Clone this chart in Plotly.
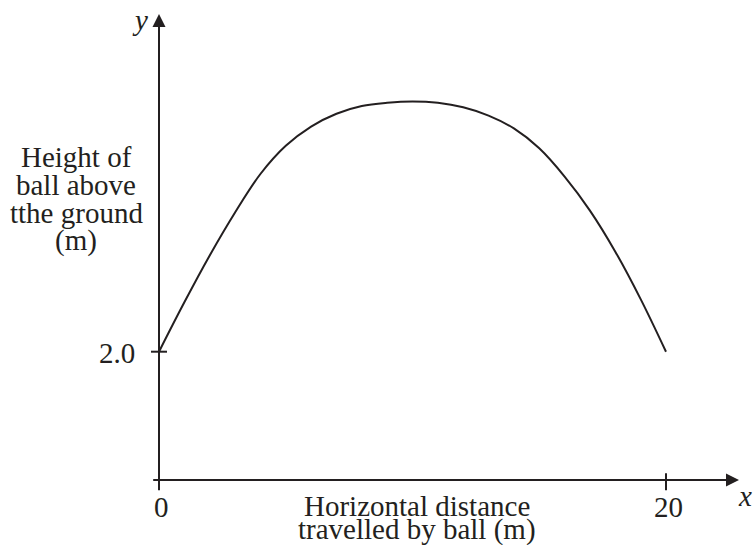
import plotly.graph_objects as go

# ---- data ----
distance_m = [0, 1, 2, 3, 4, 5, 6, 7, 8, 9, 10,
              11, 12, 13, 14, 15, 16, 17, 18, 19, 20]
height_m = [2.00, 2.77, 3.50, 4.17, 4.77, 5.21, 5.51, 5.71, 5.83, 5.88, 5.90,
            5.88, 5.81, 5.68, 5.48, 5.17, 4.73, 4.20, 3.56, 2.82, 2.00]
x_tick_vals = [0, 20]
x_tick_text = ["0", "20"]
y_tick_vals = [2.0]
y_tick_text = ["2.0"]
y_title_lines = ["Height of", "ball above", "tthe ground", "(m)"]
x_title_lines = ["Horizontal distance", "travelled by ball (m)"]

# ---- layout constants (pixel geometry of the reference) ----
W, H = 753, 545
PX0, PXU = 159.0, 25.35      # pixel of x=0, pixels per metre horizontally
PY0, PYU = 480.0, 64.15      # pixel of y=0, pixels per metre vertically
x_range = [(0 - PX0) / PXU, (W - PX0) / PXU]
y_range = [(PY0 - H) / PYU, (PY0 - 0) / PYU]

FONT = "Liberation Serif, Times New Roman, serif"
INK = "#231f20"
FS = 29

fig = go.Figure()
fig.add_trace(go.Scatter(
    x=distance_m, y=height_m, mode="lines",
    line=dict(color=INK, width=2, shape="spline", smoothing=1.0),
    hoverinfo="skip", showlegend=False))

# axis extents (data units)
x_axis_start = (151.7 - PX0) / PXU
x_axis_end = (739.0 - PX0) / PXU
y_axis_start = (PY0 - 490.0) / PYU
y_axis_end = (PY0 - 14.0) / PYU

annotations = []
# axes drawn as arrows
annotations.append(dict(x=x_axis_end, y=0, ax=x_axis_start, ay=0,
                        xref="x", yref="y", axref="x", ayref="y", text="",
                        showarrow=True, arrowhead=2, arrowsize=1.3,
                        arrowwidth=2, arrowcolor=INK, standoff=0, startstandoff=0))
annotations.append(dict(x=0, y=y_axis_end, ax=0, ay=y_axis_start,
                        xref="x", yref="y", axref="x", ayref="y", text="",
                        showarrow=True, arrowhead=2, arrowsize=1.3,
                        arrowwidth=2, arrowcolor=INK, standoff=0, startstandoff=0))

shapes = []
tick_half_x = 8.0 / PXU
tick_half_y = 8.5 / PYU
for v in y_tick_vals:
    shapes.append(dict(type="line", xref="x", yref="y", x0=-tick_half_x, x1=tick_half_x,
                       y0=v, y1=v, line=dict(color=INK, width=2)))
for v in x_tick_vals:
    shapes.append(dict(type="line", xref="x", yref="y", x0=v, x1=v,
                       y0=-1.2 * tick_half_y, y1=0.8 * tick_half_y, line=dict(color=INK, width=2)))

# tick labels
for v, t in zip(x_tick_vals, x_tick_text):
    annotations.append(dict(x=v, y=0, xref="x", yref="y", text=t, showarrow=False,
                            xanchor="center", yanchor="middle", xshift=2, yshift=-27,
                            font=dict(family=FONT, size=FS, color=INK)))
for v, t in zip(y_tick_vals, y_tick_text):
    annotations.append(dict(x=0, y=v, xref="x", yref="y", text=t, showarrow=False,
                            xanchor="right", yanchor="middle", xshift=-22, yshift=-1,
                            font=dict(family=FONT, size=FS, color=INK)))

# axis letters
annotations.append(dict(x=0, y=y_axis_end, xref="x", yref="y", text="<i>y</i>",
                        showarrow=False, xanchor="center", yanchor="middle",
                        xshift=-19, yshift=-6, font=dict(family=FONT, size=FS, color=INK)))
annotations.append(dict(x=x_axis_end, y=0, xref="x", yref="y", text="<i>x</i>",
                        showarrow=False, xanchor="center", yanchor="middle",
                        xshift=6, yshift=-16, font=dict(family=FONT, size=FS, color=INK)))

# axis titles, one annotation per line (tight line spacing as in the reference)
y_title_centres = [157, 185, 213, 240]
for line, cy in zip(y_title_lines, y_title_centres):
    annotations.append(dict(x=76 / W, y=1 - cy / H, xref="paper", yref="paper",
                            text=line, showarrow=False, xanchor="center", yanchor="middle",
                            font=dict(family=FONT, size=FS, color=INK)))
x_title_centres = [506, 529]
for line, cy in zip(x_title_lines, x_title_centres):
    annotations.append(dict(x=417 / W, y=1 - cy / H, xref="paper", yref="paper",
                            text=line, showarrow=False, xanchor="center", yanchor="middle",
                            font=dict(family=FONT, size=FS, color=INK)))

fig.update_layout(
    width=W, height=H, margin=dict(l=0, r=0, t=0, b=0, pad=0),
    paper_bgcolor="white", plot_bgcolor="white",
    xaxis=dict(range=x_range, visible=False, domain=[0, 1], fixedrange=True),
    yaxis=dict(range=y_range, visible=False, domain=[0, 1], fixedrange=True),
    shapes=shapes, annotations=annotations, showlegend=False,
)

fig.write_html("out.html", config={"displayModeBar": False, "responsive": False},
               post_script="document.body.style.margin='0';")
